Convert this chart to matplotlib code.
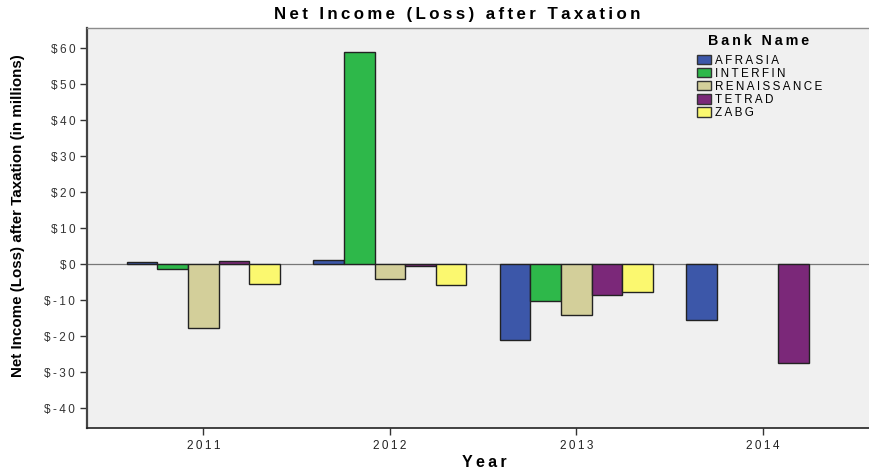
import numpy as np
import matplotlib
matplotlib.use("Agg")
import matplotlib.pyplot as plt
from matplotlib.patches import Patch

years = ["2011", "2012", "2013", "2014"]
banks = ["AFRASIA", "INTERFIN", "RENAISSANCE", "TETRAD", "ZABG"]
afrasia = [0.6, 1.1, -21.0, -15.4]
interfin = [-1.4, 59.0, -10.2, np.nan]
renaissance = [-17.8, -4.2, -14.1, np.nan]
tetrad = [0.9, -0.5, -8.6, -27.5]
zabg = [-5.4, -5.7, -7.8, np.nan]
series = [afrasia, interfin, renaissance, tetrad, zabg]
colors = ["#3C57A9", "#2EB84A", "#D3CF9A", "#7B2879", "#FBF86F"]
yticks = [-40, -30, -20, -10, 0, 10, 20, 30, 40, 50, 60]

TS = "\u2009"
FAM = ["Liberation Sans", "DejaVu Sans"]


def spaced(s):
    return TS.join(s)


fig = plt.figure(figsize=(8.7, 4.73), dpi=100)
ax = fig.add_axes([87/870, 45/473, 1 - 87/870, (428-28)/473])
ax.set_facecolor("#F0F0F0")

x = np.arange(len(years))
w = 0.164
for i, (vals, c) in enumerate(zip(series, colors)):
    off = (i - 2) * w
    v = np.array(vals, dtype=float)
    m = ~np.isnan(v)
    ax.bar(x[m] + off, v[m], width=w, color=c, edgecolor="#222222",
           linewidth=1.0, zorder=3)

ax.axhline(0, color="#777777", linewidth=0.9, zorder=2)
ax.set_xlim(-0.624, 3.575)
ax.set_ylim(-45.5, 65.6)
ax.set_yticks(yticks)
ax.set_yticklabels([spaced(f"${v}") for v in yticks], fontsize=8.5, color="#333333",
                   family=FAM)
ax.set_xticks(x)
ax.set_xticklabels([spaced(y) for y in years], fontsize=8.5, color="#222222",
                   family=FAM)
ax.tick_params(axis="both", direction="out", length=5, width=1, color="#333333")

ax.spines["right"].set_visible(False)
ax.spines["top"].set_color("#8C8C8C")
ax.spines["top"].set_linewidth(1.0)
ax.spines["left"].set_color("#444444")
ax.spines["left"].set_linewidth(1.6)
ax.spines["bottom"].set_color("#222222")
ax.spines["bottom"].set_linewidth(1.2)

fig.text(457/870, 1 - 14/473, spaced("Net Income (Loss) after Taxation"), ha="center",
         va="center", fontsize=12.2, fontweight="bold", family=FAM)
fig.text(484/870, 1 - 462/473, spaced("Year"), ha="center", va="center",
         fontsize=11.5, fontweight="bold", family=FAM)
fig.text(18/870, 1 - 216/473, "Net Income (Loss) after Taxation (in millions)",
         rotation=90, ha="center", va="center", fontsize=10.9, fontweight="bold",
         family=FAM)

# legend title
fig.text(759/870, 1 - 41/473, spaced("Bank Name"), ha="center", va="center",
         fontsize=10.3, fontweight="bold", family=FAM)

handles = [Patch(facecolor=c, edgecolor="#333333", linewidth=1.0) for c in colors]
leg = ax.legend(handles, [spaced(b) for b in banks], loc="upper left",
                bbox_to_anchor=((697 - 87) / 783, (428 - 54.5) / 400),
                frameon=False,
                prop={"family": FAM, "size": 8.4},
                handlelength=1.2, handleheight=0.85, handletextpad=0.35,
                labelspacing=0.1, borderaxespad=0, borderpad=0)

fig.savefig("out.png", dpi=100, facecolor="white")
